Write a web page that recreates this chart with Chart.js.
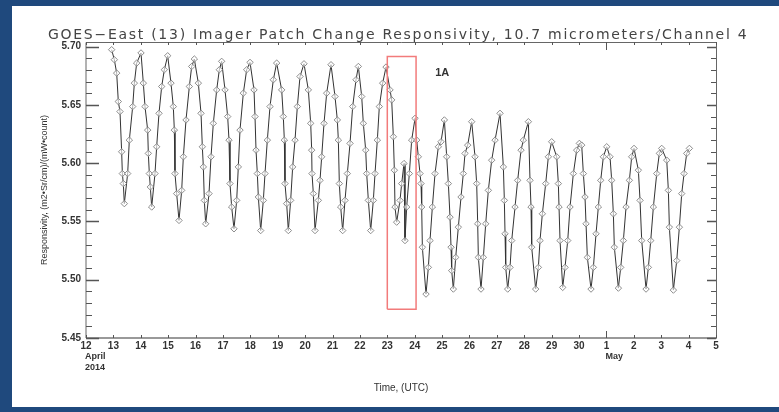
<!DOCTYPE html>
<html>
<head>
<meta charset="utf-8">
<script src="https://cdn.jsdelivr.net/npm/chart.js@4.4.1/dist/chart.umd.min.js"></script>
<style>
  html, body { margin: 0; padding: 0; background: #1f497d; }
  canvas { display: block; }
</style>
</head>
<body>
<canvas id="respChart" width="779" height="412"></canvas>
<script>
// =====================================
// DATA (x = day of April 2014, May 1 = 31)
// =====================================

const times = [
  12.937, 13.034, 13.120, 13.180, 13.241, 13.302, 13.327, 13.363, 13.399,
  13.521, 13.582, 13.704, 13.765, 13.850, 14.008,
  14.093, 14.154, 14.252, 14.276, 14.312, 14.349, 14.398,
  14.519, 14.580, 14.665, 14.763, 14.860, 14.982,
  15.103, 15.188, 15.225, 15.249, 15.310, 15.395,
  15.493, 15.554, 15.651, 15.773, 15.858, 15.955,
  16.101, 16.199, 16.247, 16.284, 16.320, 16.369,
  16.491, 16.564, 16.649, 16.771, 16.868, 16.953,
  17.075, 17.172, 17.221, 17.257, 17.318, 17.403,
  17.501, 17.561, 17.622, 17.744, 17.866, 17.988,
  18.134, 18.170, 18.207, 18.255, 18.292, 18.377,
  18.474, 18.535, 18.620, 18.718, 18.839, 18.961,
  19.144, 19.204, 19.241, 19.265, 19.326, 19.387,
  19.472, 19.545, 19.631, 19.716, 19.813, 19.959,
  20.117, 20.203, 20.239, 20.251, 20.300, 20.361,
  20.482, 20.543, 20.604, 20.689, 20.787, 20.945,
  21.091, 21.176, 21.213, 21.249, 21.298, 21.371,
  21.456, 21.541, 21.639, 21.736, 21.858, 21.943,
  22.065, 22.125, 22.211, 22.247, 22.308, 22.393,
  22.490, 22.551, 22.636, 22.709, 22.831, 22.953,
  23.099, 23.160, 23.221, 23.257, 23.281, 23.342,
  23.464, 23.525, 23.610, 23.646, 23.707, 23.805, 23.890, 24.012,
  24.073, 24.133, 24.194, 24.231, 24.255, 24.280, 24.413,
  24.499, 24.559, 24.645, 24.742, 24.864, 24.961, 25.083, 25.168, 25.229,
  25.290, 25.326, 25.350, 25.411,
  25.497, 25.594, 25.691, 25.776, 25.837, 25.935, 26.081, 26.202, 26.263,
  26.300, 26.324, 26.421,
  26.507, 26.592, 26.689, 26.811, 26.933, 27.115, 27.237, 27.273,
  27.298, 27.322, 27.395,
  27.480, 27.541, 27.663, 27.760, 27.882, 27.967, 28.150, 28.210, 28.247,
  28.271, 28.417,
  28.515, 28.575, 28.661, 28.782, 28.880, 29.001, 29.184, 29.245, 29.269,
  29.306, 29.403,
  29.488, 29.586, 29.671, 29.793, 29.914, 30.011,
  30.097, 30.158, 30.218, 30.255, 30.304, 30.437,
  30.523, 30.620, 30.705, 30.791, 30.888, 31.010, 31.131, 31.192, 31.253,
  31.289, 31.436,
  31.521, 31.618, 31.716, 31.837, 31.922, 32.007, 32.166, 32.227, 32.288,
  32.446,
  32.531, 32.617, 32.714, 32.836, 32.933, 33.018, 33.201, 33.261, 33.298,
  33.444,
  33.566, 33.663, 33.748, 33.834, 33.931, 34.029,
];

const resp = [
  5.6974, 5.6888, 5.6773, 5.6529, 5.6443, 5.6098, 5.5911, 5.5825, 5.5653,
  5.5911, 5.6198, 5.6486, 5.6687, 5.6859, 5.6946,
  5.6687, 5.6486, 5.6284, 5.6084, 5.5911, 5.5796, 5.5624,
  5.5911, 5.6141, 5.6428, 5.6658, 5.6802, 5.6922,
  5.6687, 5.6486, 5.6284, 5.5911, 5.5739, 5.5509,
  5.5767, 5.6055, 5.6371, 5.6658, 5.6830, 5.6894,
  5.6687, 5.6428, 5.6141, 5.5968, 5.5681, 5.5480,
  5.5739, 5.6055, 5.6342, 5.6629, 5.6802, 5.6874,
  5.6629, 5.6400, 5.6198, 5.5825, 5.5624, 5.5437,
  5.5681, 5.5968, 5.6284, 5.6601, 5.6802, 5.6865,
  5.6629, 5.6400, 5.6112, 5.5911, 5.5710, 5.5422,
  5.5681, 5.5911, 5.6198, 5.6486, 5.6716, 5.6859,
  5.6629, 5.6400, 5.6198, 5.5825, 5.5653, 5.5422,
  5.5681, 5.5968, 5.6198, 5.6486, 5.6744, 5.6853,
  5.6629, 5.6342, 5.6112, 5.5911, 5.5739, 5.5422,
  5.5681, 5.5853, 5.6055, 5.6342, 5.6601, 5.6845,
  5.6572, 5.6371, 5.6198, 5.5825, 5.5624, 5.5422,
  5.5681, 5.5911, 5.6170, 5.6486, 5.6716, 5.6830,
  5.6572, 5.6342, 5.6112, 5.5911, 5.5681, 5.5422,
  5.5681, 5.5911, 5.6198, 5.6486, 5.6687, 5.6825,
  5.6629, 5.6543, 5.6227, 5.5940, 5.5624, 5.5494,
  5.5681, 5.5825, 5.5997, 5.5336, 5.5624, 5.5911, 5.6198, 5.6385,
  5.6198, 5.6055, 5.5911, 5.5825, 5.5624, 5.5279, 5.4877,
  5.5106, 5.5336, 5.5624, 5.5911, 5.6141, 5.6184, 5.6371, 5.6055, 5.5825,
  5.5537, 5.5279, 5.5078, 5.4920,
  5.5192, 5.5451, 5.5710, 5.5911, 5.6084, 5.6155, 5.6356, 5.6055, 5.5825,
  5.5480, 5.5192, 5.4920,
  5.5192, 5.5480, 5.5767, 5.6026, 5.6198, 5.6428, 5.5968, 5.5681,
  5.5394, 5.5106, 5.4920,
  5.5106, 5.5336, 5.5624, 5.5853, 5.6112, 5.6198, 5.6356, 5.5853, 5.5624,
  5.5279, 5.4920,
  5.5106, 5.5336, 5.5566, 5.5825, 5.6055, 5.6184, 5.6055, 5.5825, 5.5624,
  5.5336, 5.4934,
  5.5106, 5.5336, 5.5624, 5.5911, 5.6112, 5.6170,
  5.6155, 5.5911, 5.5710, 5.5480, 5.5192, 5.4920,
  5.5106, 5.5394, 5.5624, 5.5853, 5.6055, 5.6141, 5.6055, 5.5853, 5.5566,
  5.5279, 5.4928,
  5.5106, 5.5336, 5.5624, 5.5853, 5.6055, 5.6127, 5.5940, 5.5681, 5.5336,
  5.4920,
  5.5106, 5.5336, 5.5624, 5.5911, 5.6084, 5.6127, 5.6026, 5.5767, 5.5451,
  5.4911,
  5.5164, 5.5451, 5.5739, 5.5911, 5.6084, 5.6127,
];

// red "1A" box (day, responsivity corners)
const boxX = [23.0, 23.0, 24.05, 24.05, 23.0];
const boxY = [5.4746, 5.6915, 5.6915, 5.4746, 5.4746];
const boxLabel = { text: '1A', x: 24.75, y: 5.677 };

const xTickValues = [12, 13, 14, 15, 16, 17, 18, 19, 20, 21, 22, 23, 24, 25, 26, 27, 28, 29, 30, 31, 32, 33, 34, 35];
const xTickLabels = ['12', '13', '14', '15', '16', '17', '18', '19', '20', '21', '22', '23', '24', '25', '26', '27', '28', '29', '30', '1', '2', '3', '4', '5'];
const yTickValues = [5.45, 5.50, 5.55, 5.60, 5.65, 5.70];
const monthLabels = [
  { x: 12, lines: ['April', '2014'] },
  { x: 31, lines: ['May'] },
];

const TITLE = 'GOES\u2212East (13) Imager Patch Change Responsivity, 10.7 micrometers/Channel 4';
const Y_TITLE = 'Responsivity, (m2\u2022Sr/cm)/(mW\u2022count)';
const X_TITLE = 'Time, (UTC)';

// =====================================
// DECORATION PLUGIN
// =====================================

const decorPlugin = {
  id: 'decor',
  beforeDraw(chart) {
    const { ctx, width, height } = chart;
    ctx.save();
    ctx.fillStyle = '#1f497d';
    ctx.fillRect(0, 0, width, height);
    ctx.fillStyle = '#ffffff';
    ctx.fillRect(12, 6, width - 12, 401);
    ctx.restore();
  },
  afterDraw(chart) {
    const { ctx, chartArea: a, scales } = chart;
    const xs = scales.x;
    const ys = scales.y;
    ctx.save();

    // frame
    ctx.strokeStyle = '#666';
    ctx.lineWidth = 1;
    ctx.beginPath();
    ctx.moveTo(a.left, a.bottom);
    ctx.lineTo(a.left, a.top + 0.5);
    ctx.lineTo(a.right + 0.5, a.top + 0.5);
    ctx.lineTo(a.right + 0.5, a.bottom);
    ctx.stroke();
    ctx.strokeStyle = '#999';
    ctx.lineWidth = 2;
    ctx.beginPath();
    ctx.moveTo(a.left, a.bottom);
    ctx.lineTo(a.right + 1, a.bottom);
    ctx.stroke();

    // y ticks, inward on both sides
    ctx.strokeStyle = '#555';
    for (let i = 0; i <= 25; i++) {
      const v = 5.45 + i * 0.01;
      const major = i % 5 === 0;
      const py = Math.round(ys.getPixelForValue(v)) + 0.5;
      const len = major ? 13 : 6;
      ctx.lineWidth = major ? 1.6 : 1;
      ctx.beginPath();
      ctx.moveTo(a.left, py);
      ctx.lineTo(a.left + len, py);
      ctx.moveTo(a.right, py);
      ctx.lineTo(a.right - (major ? 9 : 5), py);
      ctx.stroke();
    }

    // x ticks, inward top and bottom
    ctx.lineWidth = 1;
    xTickValues.forEach((v) => {
      const px = Math.round(xs.getPixelForValue(v)) + 0.5;
      const tall = v === 31;
      ctx.beginPath();
      ctx.moveTo(px, a.bottom);
      ctx.lineTo(px, a.bottom - (tall ? 7 : 3));
      ctx.moveTo(px, a.top);
      ctx.lineTo(px, a.top + (tall ? 8 : 3));
      ctx.stroke();
    });

    // month / year labels under the day numbers
    ctx.fillStyle = '#333';
    ctx.font = 'bold 9px "Liberation Sans", Arial, sans-serif';
    ctx.textAlign = 'left';
    ctx.textBaseline = 'middle';
    monthLabels.forEach((m) => {
      const px = xs.getPixelForValue(m.x) - 1;
      m.lines.forEach((t, i) => ctx.fillText(t, px, 357 + i * 11));
    });

    // box label
    ctx.font = 'bold 11px "Liberation Sans", Arial, sans-serif';
    ctx.fillText(boxLabel.text, xs.getPixelForValue(boxLabel.x), ys.getPixelForValue(boxLabel.y));

    // axis titles
    ctx.font = '10px "Liberation Sans", Arial, sans-serif';
    ctx.textAlign = 'center';
    ctx.fillText(X_TITLE, (a.left + a.right) / 2, 388);
    ctx.save();
    ctx.translate(45, (a.top + a.bottom) / 2);
    ctx.rotate(-Math.PI / 2);
    ctx.font = '9px "Liberation Sans", Arial, sans-serif';
    ctx.fillText(Y_TITLE, 0, 0);
    ctx.restore();

    // main title, stretched to the reference width
    ctx.font = '14px "DejaVu Sans", sans-serif';
    ctx.fillStyle = '#444';
    const w = ctx.measureText(TITLE).width;
    ctx.letterSpacing = ((700 - w) / TITLE.length).toFixed(2) + 'px';
    ctx.textAlign = 'left';
    ctx.fillText(TITLE, 48, 35);
    ctx.restore();
  },
};

// =====================================
// CHART
// =====================================

const points = times.map((t, i) => ({ x: t, y: resp[i] }));
const boxPoints = boxX.map((x, i) => ({ x, y: boxY[i] }));

new Chart(document.getElementById('respChart'), {
  type: 'scatter',
  data: {
    datasets: [
      {
        data: points,
        showLine: true,
        borderColor: '#333',
        borderWidth: 1,
        pointStyle: 'rectRot',
        pointRadius: 3.2,
        pointBorderWidth: 0.9,
        pointBorderColor: '#808080',
        pointBackgroundColor: 'rgba(255,255,255,0.6)',
        order: 2,
      },
      {
        data: boxPoints,
        showLine: true,
        borderColor: '#f27b7b',
        borderWidth: 1.5,
        pointRadius: 0,
        order: 1,
      },
    ],
  },
  options: {
    responsive: false,
    animation: false,
    devicePixelRatio: 1,
    layout: { padding: { left: 0, right: 63, top: 42, bottom: 0 } },
    plugins: { legend: { display: false }, tooltip: { enabled: false } },
    scales: {
      x: {
        type: 'linear',
        min: 12,
        max: 35,
        afterBuildTicks: (s) => { s.ticks = xTickValues.map((v) => ({ value: v })); },
        afterFit: (s) => { s.height = 74; },
        grid: { display: false, drawTicks: false },
        border: { display: false },
        ticks: {
          autoSkip: false,
          maxRotation: 0,
          padding: 2,
          color: '#333',
          font: { family: '"Liberation Sans", Arial, sans-serif', size: 10, weight: 'bold' },
          callback: (v) => xTickLabels[xTickValues.indexOf(v)],
        },
      },
      y: {
        min: 5.45,
        max: 5.704,
        afterBuildTicks: (s) => { s.ticks = yTickValues.map((v) => ({ value: v })); },
        afterFit: (s) => { s.width = 86; },
        grid: { display: false, drawTicks: false },
        border: { display: false },
        ticks: {
          padding: 5,
          color: '#333',
          font: { family: '"Liberation Sans", Arial, sans-serif', size: 10, weight: 'bold' },
          callback: (v) => v.toFixed(2),
        },
      },
    },
  },
  plugins: [decorPlugin],
});
</script>
</body>
</html>
